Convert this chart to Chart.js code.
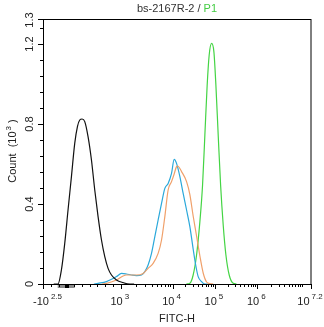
<!DOCTYPE html>
<html>
<head>
<meta charset="utf-8">
<script src="https://cdn.jsdelivr.net/npm/chart.js@4/dist/chart.umd.min.js"></script>
<style>
html,body{margin:0;padding:0;background:#fff;}
#wrap{width:324px;height:327px;position:relative;}
</style>
</head>
<body>
<div id="wrap"><canvas id="c" width="324" height="327"></canvas></div>
<script>
// ---- Data (x in display channel units 0..1000, y in count x10^3) ----
const blackX = [40, 56, 68.7, 81.1, 93.4, 106.1, 118.4, 128.5, 137.1, 145.7, 155.8, 168.1, 180.8, 193.1, 205.5, 218.2, 230.5, 242.8, 255.5, 274.2, 298.8, 323.9, 340];
const blackY = [0, 0, 0.07, 0.203, 0.37, 0.537, 0.703, 0.787, 0.82, 0.825, 0.812, 0.737, 0.62, 0.47, 0.337, 0.22, 0.137, 0.078, 0.045, 0.02, 0.007, 0, 0];

const blueX = [190, 205.5, 236.8, 274.2, 292.9, 311.5, 330.2, 348.9, 367.6, 379.9, 392.2, 404.9, 417.3, 429.6, 442.3, 454.6, 466.9, 479.6, 489.4, 498.3, 510.7, 523.0, 535.7, 548.0, 560.3, 570.4, 579.0, 591.7, 604.0, 615];
const blueY = [0, 0.0035, 0.012, 0.037, 0.053, 0.05, 0.045, 0.042, 0.045, 0.062, 0.095, 0.153, 0.237, 0.32, 0.403, 0.478, 0.503, 0.553, 0.623, 0.603, 0.537, 0.453, 0.37, 0.287, 0.175, 0.09, 0.037, 0.012, 0, 0];

const orangeX = [220, 236.8, 274.2, 298.8, 311.5, 323.9, 348.9, 373.6, 392.2, 410.9, 429.6, 442.3, 454.6, 466.9, 479.6, 488.2, 498.3, 502.1, 517.0, 535.7, 548.0, 560.3, 573.0, 585.4, 597.7, 610.4, 622.7, 635];
const orangeY = [0, 0.0035, 0.02, 0.04, 0.045, 0.045, 0.045, 0.053, 0.078, 0.103, 0.153, 0.22, 0.337, 0.47, 0.512, 0.545, 0.587, 0.59, 0.562, 0.512, 0.447, 0.34, 0.24, 0.14, 0.055, 0.01, 0.002, 0];

const greenX = [535, 548.0, 560.3, 573.0, 585.4, 595.4, 604.0, 612.6, 620.1, 629.1, 637.6, 645.1, 653.7, 662.7, 672.4, 682.5, 694.8, 709.8, 722];
const greenY = [0, 0.0035, 0.045, 0.145, 0.312, 0.495, 0.745, 0.995, 1.145, 1.203, 1.162, 0.995, 0.745, 0.495, 0.295, 0.145, 0.045, 0.0035, 0];

// ---- Axis ticks ----
const xMajorTicks = [0, 290.2, 483.4, 641.4, 799.4, 1000];
const xMajorBase = ['-10', '10', '10', '10', '10', '10'];
const xMajorExp = ['2.5', '3', '4', '5', '6', '7.2'];
const xMajorDecade = [null, 3, 4, 5, 6, 7.2];
const linearZoneTicks = 10; // evenly spaced ticks between first two majors
const linearZoneBar = [54.9, 118.4];
const linearZoneMark = 89.7;

const yMax = 1.325;
const yMajorTicks = [0, 0.4, 0.8, 1.2];
const yMajorLabels = ['0', '0.4', '0.8', '1.2'];
const yTopLabel = '1.3';
const yMinorStep = 0.08;

const titleMain = 'bs-2167R-2 / ';
const titleGate = 'P1';
const xTitle = 'FITC-H';
const yTitleMain = 'Count  (10';
const yTitleExp = '3';
const yTitleEnd = ' )';

const FONT = '"Liberation Sans", Arial, sans-serif';

function pts(xs, ys) { return xs.map((x, i) => ({x: x, y: ys[i]})); }

function minorXTicks() {
  const out = [];
  const a = xMajorTicks[0], b = xMajorTicks[1];
  for (let k = 1; k < linearZoneTicks; k++) out.push(a + (b - a) * k / linearZoneTicks);
  for (let i = 1; i < xMajorTicks.length - 1; i++) {
    const d0 = xMajorDecade[i], d1 = xMajorDecade[i + 1];
    const c0 = xMajorTicks[i], c1 = xMajorTicks[i + 1];
    const per = (c1 - c0) / (d1 - d0);
    for (let e = d0; e < d1; e++) {
      for (let m = 2; m <= 10; m++) {
        const off = (e - d0) + Math.log10(m);
        if (off < (d1 - d0) - 1e-6) out.push(c0 + off * per);
      }
    }
  }
  return out;
}

const axesPlugin = {
  id: 'axesPlugin',
  afterDraw(chart) {
    const ctx = chart.ctx;
    const xs = chart.scales.x, ys = chart.scales.y;
    const ca = chart.chartArea;
    ctx.save();
    // linear zone bar
    const bx0 = xs.getPixelForValue(linearZoneBar[0]);
    const bx1 = xs.getPixelForValue(linearZoneBar[1]);
    ctx.fillStyle = '#8a8a8a';
    ctx.fillRect(bx0, ca.bottom, bx1 - bx0, 4);
    const mx = xs.getPixelForValue(linearZoneMark);
    ctx.fillStyle = '#000';
    ctx.fillRect(Math.round(mx) - 2, ca.bottom, 4, 4);

    // frame
    ctx.strokeStyle = '#000';
    ctx.lineWidth = 1;
    ctx.strokeRect(ca.left + 0.5, ca.top + 0.5, ca.right - ca.left - 0.5, ca.bottom - ca.top);

    // x ticks
    ctx.beginPath();
    xMajorTicks.forEach(v => {
      const p = Math.round(xs.getPixelForValue(v)) + 0.5;
      ctx.moveTo(p, ca.bottom); ctx.lineTo(p, ca.bottom + 5);
    });
    minorXTicks().forEach(v => {
      const p = Math.round(xs.getPixelForValue(v)) + 0.5;
      ctx.moveTo(p, ca.bottom); ctx.lineTo(p, ca.bottom + 3);
    });
    // y ticks
    yMajorTicks.forEach(v => {
      const p = Math.round(ys.getPixelForValue(v)) + 0.5;
      ctx.moveTo(ca.left, p); ctx.lineTo(ca.left - 5, p);
    });
    for (let v = yMinorStep; v < yMax - 1e-6; v += yMinorStep) {
      const p = Math.round(ys.getPixelForValue(v)) + 0.5;
      ctx.moveTo(ca.left, p); ctx.lineTo(ca.left - 3, p);
    }
    const tp = Math.round(ys.getPixelForValue(yMax)) + 0.5;
    ctx.moveTo(ca.left, tp); ctx.lineTo(ca.left - 5, tp);
    ctx.stroke();

    // x labels
    ctx.fillStyle = '#222';
    ctx.textBaseline = 'alphabetic';
    xMajorTicks.forEach((v, i) => {
      ctx.font = '11px ' + FONT;
      const bw = ctx.measureText(xMajorBase[i]).width;
      ctx.font = '8px ' + FONT;
      const ew = ctx.measureText(xMajorExp[i]).width;
      const gap = 2;
      const total = bw + gap + ew;
      let x0 = xs.getPixelForValue(v) - total / 2 - 1;
      if (i === 0) x0 = xs.getPixelForValue(v) - 10;
      ctx.textAlign = 'left';
      ctx.font = '11px ' + FONT;
      ctx.fillText(xMajorBase[i], x0, 305);
      ctx.font = '8px ' + FONT;
      ctx.fillText(xMajorExp[i], x0 + bw + gap, 299);
    });

    // x title
    ctx.font = '11px ' + FONT;
    ctx.textAlign = 'center';
    ctx.fillText(xTitle, (ca.left + ca.right) / 2, 322);

    // y labels (rotated)
    const drawRot = (text, x, y) => {
      ctx.save();
      ctx.translate(x, y);
      ctx.rotate(-Math.PI / 2);
      ctx.textAlign = 'center';
      ctx.textBaseline = 'middle';
      ctx.fillText(text, 0, 0);
      ctx.restore();
    };
    ctx.font = '11px ' + FONT;
    yMajorTicks.forEach((v, i) => drawRot(yMajorLabels[i], 30, ys.getPixelForValue(v)));
    drawRot(yTopLabel, 30, ys.getPixelForValue(yMax) + 1);

    // y title with superscript
    ctx.save();
    ctx.translate(12, (ca.top + ca.bottom) / 2);
    ctx.rotate(-Math.PI / 2);
    ctx.font = '11px ' + FONT;
    const w1 = ctx.measureText(yTitleMain).width;
    const w3 = ctx.measureText(yTitleEnd).width;
    ctx.font = '8px ' + FONT;
    const w2 = ctx.measureText(yTitleExp).width;
    let sx = -(w1 + w2 + w3) / 2;
    ctx.textAlign = 'left';
    ctx.textBaseline = 'alphabetic';
    ctx.font = '11px ' + FONT;
    ctx.fillText(yTitleMain, sx, 4);
    ctx.font = '8px ' + FONT;
    ctx.fillText(yTitleExp, sx + w1 + 1, -1);
    ctx.font = '11px ' + FONT;
    ctx.fillText(yTitleEnd, sx + w1 + w2 + 1, 4);
    ctx.restore();

    // title
    ctx.font = '11px ' + FONT;
    const tw1 = ctx.measureText(titleMain).width;
    const tw2 = ctx.measureText(titleGate).width;
    const tx = (ca.left + ca.right) / 2 - (tw1 + tw2) / 2;
    ctx.textAlign = 'left';
    ctx.textBaseline = 'alphabetic';
    ctx.fillStyle = '#333';
    ctx.fillText(titleMain, tx, 12);
    ctx.fillStyle = '#44cc44';
    ctx.fillText(titleGate, tx + tw1, 12);
    ctx.restore();
  }
};

const lineDs = (label, xs, ys, color) => ({
  label: label,
  data: pts(xs, ys),
  borderColor: color,
  borderWidth: 1.2,
  pointRadius: 0,
  fill: false,
  cubicInterpolationMode: 'monotone'
});

new Chart(document.getElementById('c'), {
  type: 'line',
  data: {
    datasets: [
      lineDs('Isotype', blackX, blackY, '#111111'),
      lineDs('Sample A', orangeX, orangeY, '#f0a06a'),
      lineDs('Sample B', blueX, blueY, '#2aa8da'),
      lineDs('P1', greenX, greenY, '#44d444')
    ]
  },
  options: {
    responsive: false,
    animation: false,
    devicePixelRatio: 1,
    layout: { padding: { left: 43, right: 13, top: 19, bottom: 43 } },
    plugins: { legend: { display: false }, tooltip: { enabled: false }, title: { display: false } },
    scales: {
      x: {
        type: 'linear', min: 0, max: 1000,
        ticks: { display: false }, grid: { display: false, drawTicks: false }, border: { display: false },
        afterFit: s => { s.height = 0; }
      },
      y: {
        type: 'linear', min: 0, max: yMax,
        ticks: { display: false }, grid: { display: false, drawTicks: false }, border: { display: false },
        afterFit: s => { s.width = 0; }
      }
    }
  },
  plugins: [axesPlugin]
});
</script>
</body>
</html>
